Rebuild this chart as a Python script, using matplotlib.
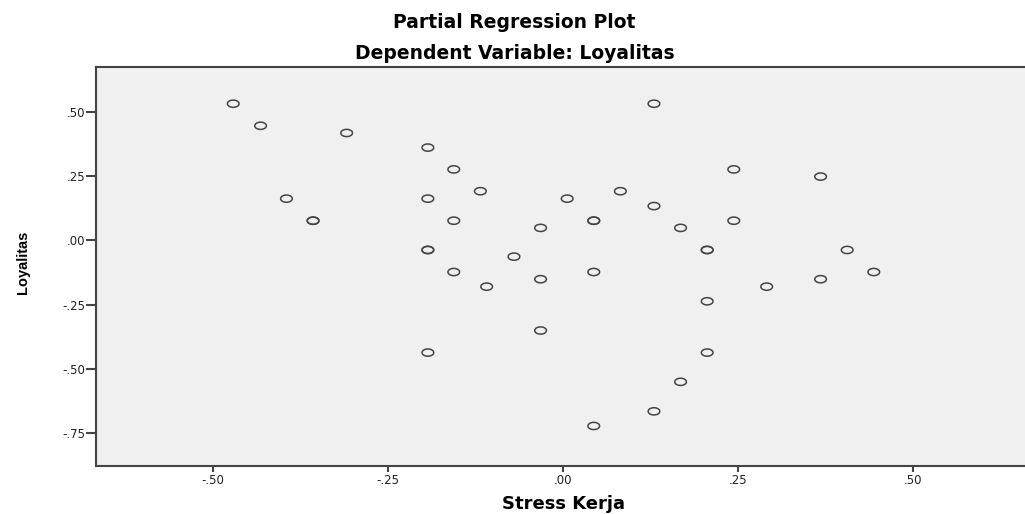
import numpy as np
import matplotlib
matplotlib.use("Agg")
import matplotlib.pyplot as plt
from matplotlib.path import Path
from matplotlib.ticker import FixedLocator, FuncFormatter

# partial residuals (duplicates listed twice)
stress_kerja = [-0.471, -0.432, -0.309, -0.193, -0.156, -0.118, -0.395, -0.193,
                -0.357, -0.357, -0.156, -0.193, -0.193, -0.070, -0.156, -0.109,
                -0.193, 0.130, 0.244, 0.368, 0.082, 0.006, 0.130, 0.044, 0.044,
                0.244, -0.032, 0.168, 0.206, 0.206, 0.406, 0.044, -0.032, 0.291,
                0.368, 0.444, 0.206, -0.032, 0.206, 0.168, 0.130, 0.044]
loyalitas = [0.533, 0.447, 0.419, 0.362, 0.277, 0.192, 0.163, 0.163,
             0.077, 0.077, 0.077, -0.037, -0.037, -0.063, -0.123, -0.180,
             -0.437, 0.533, 0.277, 0.249, 0.192, 0.163, 0.134, 0.077, 0.077,
             0.077, 0.049, 0.049, -0.037, -0.037, -0.037, -0.123, -0.151, -0.180,
             -0.151, -0.123, -0.237, -0.351, -0.437, -0.551, -0.666, -0.723]

x_ticks = [-0.50, -0.25, 0.00, 0.25, 0.50]
y_ticks = [0.50, 0.25, 0.00, -0.25, -0.50, -0.75]

plt.rcParams['font.family'] = ['DejaVu Sans']

fig = plt.figure(figsize=(10.25, 5.14), dpi=100)
ax = fig.add_axes([0.0937, 0.0934, 0.9063, 0.7762])
ax.set_facecolor('#f0f0f0')

# slightly flattened circle like the original SPSS output
t = np.linspace(0, 2 * np.pi, 60)
oval = Path(np.column_stack([np.cos(t), 0.62 * np.sin(t)]))

ax.scatter(stress_kerja, loyalitas, marker=oval, s=8.4 ** 2,
           facecolors='none', edgecolors='#444444', linewidths=1.1, zorder=3)

ax.set_xlim(-0.667, 0.66)
ax.set_ylim(-0.879, 0.676)

def fmt(v, pos):
    s = f"{v:.2f}"
    return s.replace("0.", ".", 1)

ax.xaxis.set_major_locator(FixedLocator(x_ticks))
ax.yaxis.set_major_locator(FixedLocator(y_ticks))
ax.xaxis.set_major_formatter(FuncFormatter(fmt))
ax.yaxis.set_major_formatter(FuncFormatter(fmt))
ax.tick_params(direction='out', width=1.5, color='#444444',
               labelsize=8.5, labelcolor='#222222', pad=2)
ax.tick_params(axis='x', length=4)
ax.tick_params(axis='y', length=7, pad=1)

for side in ['left', 'bottom', 'top']:
    ax.spines[side].set_color('#444444')
    ax.spines[side].set_linewidth(1.5)
ax.spines['right'].set_visible(False)

fig.text(0.502, 0.957, 'Partial Regression Plot', ha='center', va='center',
         fontsize=13.5, fontweight='bold')
fig.text(0.502, 0.895, 'Dependent Variable: Loyalitas', ha='center', va='center',
         fontsize=13.5, fontweight='bold')
fig.text(0.55, 0.019, 'Stress Kerja', ha='center', va='center',
         fontsize=13, fontweight='bold')
fig.text(0.022, 0.489, 'Loyalitas', ha='center', va='center', rotation=90,
         fontsize=10.5, fontweight='bold', family='Liberation Sans')

fig.savefig('out.png', dpi=100)
